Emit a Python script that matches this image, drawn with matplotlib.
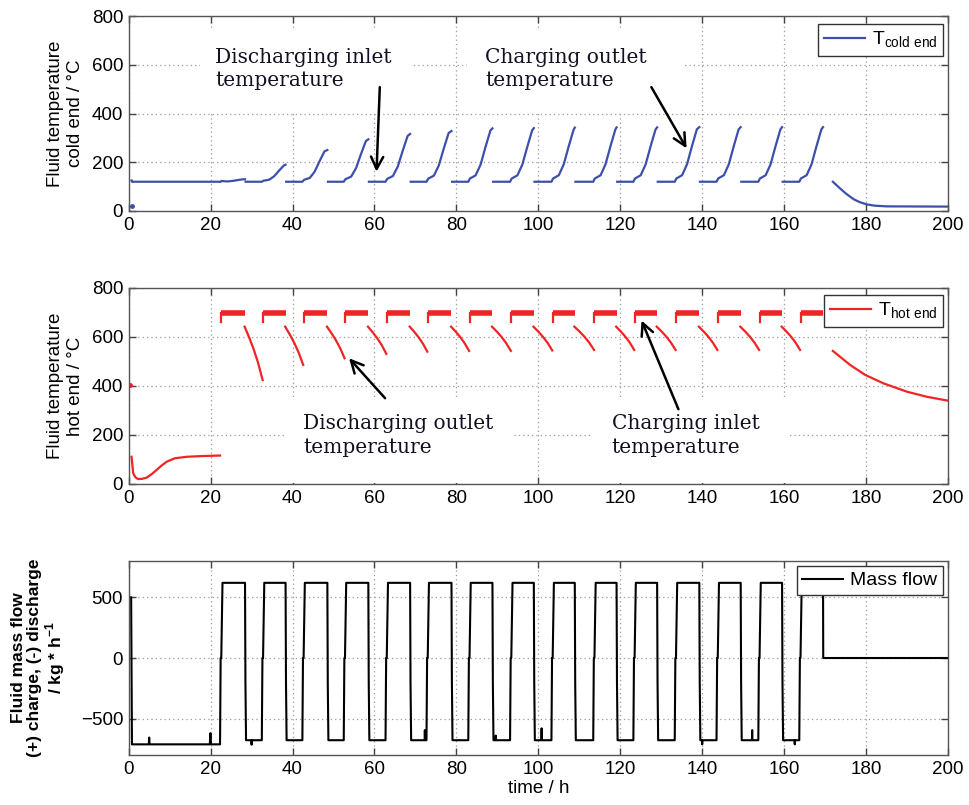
################################################################################
# Imports                                                                      #
################################################################################
import os

os.environ.setdefault("MPLBACKEND", "Agg")

import matplotlib.pyplot as plt
from matplotlib.patches import Rectangle
import numpy as np

################################################################################
# data                                        #
################################################################################
# Start and end of each charging phase (mass flow positive), in hours.
cycleRise = [22.3, 32.5, 42.4, 52.5, 62.7, 72.7, 82.9, 93.1, 103.2, 113.4,
             123.2, 133.3, 143.5, 153.7, 163.7]
cycleFall = [28.4, 38.3, 48.5, 58.5, 68.7, 78.8, 88.8, 98.9, 108.9, 119.1,
             129.0, 139.3, 149.4, 159.5, 169.5]

# Cold end: flat inlet level and the outlet peak reached at each charge end.
coldFlat = 120
coldPeak = [130, 190, 250, 294, 316, 328, 339, 340, 342, 343, 343, 344, 344,
            344, 344]
# Shape of one outlet rise (hours after charge start, fraction of the rise).
coldRiseDt = [0.0, 0.4, 1.8, 3.0, 4.2, 5.4]
coldRiseFrac = [0.0, 0.06, 0.12, 0.32, 0.65, 0.96]
coldInitT = [0.7, 0.8, 22.4]
coldInitV = [125, 120, 120]
coldDotT = [0.7]
coldDotV = [20]
coldPostT = [171.9, 173.5, 175.2, 177.0, 178.5, 180.2, 182.0, 185.0, 200.0]
coldPostV = [120, 95, 70, 48, 36, 27, 22, 19, 18]

# Hot end: charging inlet level, discharging outlet start and end values.
hotCharge = 698
hotDipV = 662
hotDisStart = 642
hotDisEnd = [424, 486, 513, 531, 540, 543, 543, 545, 547, 547, 547, 547, 547,
             547]
# Shape of one outlet fall (fraction of the phase, fraction of the drop).
hotDisTimeFrac = [0.0, 0.25, 0.5, 0.75, 1.0]
hotDisValFrac = [0.0, 0.2, 0.42, 0.68, 1.0]
hotInitT = [0.7, 1.1, 1.6, 2.3, 3.3, 4.4, 5.6, 6.8, 8.0, 9.3, 11.3, 14.2,
            18.0, 22.3]
hotInitV = [111, 44, 28, 20, 21, 26, 40, 57, 75, 91, 105, 111, 114, 116]
hotDotT = [0.4]
hotDotV = [405]
hotPostT = [171.9, 176.1, 179.8, 184.2, 189.9, 194.8, 200.0]
hotPostV = [543, 486, 445, 411, 377, 356, 340]

# Mass flow levels in kg/h.
flowCharge = 620
flowDischarge = -678
flowInitT = [0.6, 0.8, 4.9, 5.0, 5.1, 19.8, 19.95, 20.1, 22.3]
flowInitV = [500, -712, -712, -656, -712, -712, -620, -712, -712]
flowSpikeT = [30.0, 72.3, 89.6, 100.8, 140.0, 152.2, 162.6]
flowSpikeV = [-715, -595, -640, -580, -712, -595, -712]

################################################################################
# variables/constants                                                          #
################################################################################
blue = "#3C50AA"
red = "#F02424"
gridStyle = dict(color="#9a9a9a", linestyle=(0, (1, 2.5)), linewidth=0.9)
sansFont = ["Liberation Sans", "DejaVu Sans"]
serifFont = ["DejaVu Serif"]

plt.rcParams["font.family"] = sansFont
plt.rcParams["mathtext.fontset"] = "custom"
plt.rcParams["mathtext.rm"] = "Liberation Sans"
plt.rcParams["mathtext.bf"] = "Liberation Sans:bold"

################################################################################
# helpers                                                                      #
################################################################################


# One cold end segment: flat inlet during discharge, then outlet rise.
def coldSegment(k):
    rise = cycleRise[k]
    fall = cycleFall[k]
    start = 22.7 if k == 0 else cycleFall[k - 1] + 0.15
    peak = coldPeak[k]
    times = [start]
    vals = [coldFlat + (3 if k == 0 else 0)]
    for dt, frac in zip(coldRiseDt, coldRiseFrac):
        if rise + dt > start:
            times.append(rise + dt)
            vals.append(coldFlat + frac * (peak - coldFlat))
    times.append(fall)
    vals.append(peak)
    return times, vals


# One hot end discharge segment between charge end and next charge start.
def hotDischarge(k):
    t0 = cycleFall[k] - 0.1
    t1 = cycleRise[k + 1] + 0.2
    times = [t0 + f * (t1 - t0) for f in hotDisTimeFrac]
    vals = [hotDisStart + f * (hotDisEnd[k] - hotDisStart) for f in hotDisValFrac]
    return times, vals


# Whole mass flow trace built from the phase times and levels.
def flowTrace():
    times = list(flowInitT)
    vals = list(flowInitV)
    for k in range(len(cycleRise)):
        rise = cycleRise[k]
        fall = cycleFall[k]
        times += [rise + 0.15, rise + 0.3, rise + 0.6, fall]
        vals += [0, 0, flowCharge, flowCharge]
        if k == len(cycleRise) - 1:
            times += [fall + 0.05, 200.0]
            vals += [0, 0]
            break
        nextRise = cycleRise[k + 1]
        times += [fall + 0.1, fall + 0.25]
        vals += [-200, flowDischarge]
        for st, sv in zip(flowSpikeT, flowSpikeV):
            if fall + 0.3 < st < nextRise - 0.1:
                times += [st - 0.05, st, st + 0.05]
                vals += [flowDischarge, sv, flowDischarge]
        times.append(nextRise)
        vals.append(flowDischarge)
    return times, vals


# MATLAB like axes styling.
def styleAxes(ax, yTicks, yLim):
    ax.set_xlim(0, 200)
    ax.set_ylim(*yLim)
    ax.set_xticks(np.arange(0, 201, 20))
    ax.set_yticks(yTicks)
    ax.set_axisbelow(True)
    ax.grid(True, **gridStyle)
    ax.tick_params(direction="in", top=True, right=True, length=5,
                   width=1, color="#444444", labelsize=13.5, pad=4)
    for spine in ax.spines.values():
        spine.set_color("#555555")
        spine.set_linewidth(1.0)


def whiteBox(ax, x0, x1, y0, y1):
    ax.add_patch(Rectangle((x0, y0), x1 - x0, y1 - y0, facecolor="white",
                           edgecolor="none", zorder=1))


def note(ax, text, xy, xyText, textPos):
    ax.text(textPos[0], textPos[1], text, fontsize=14.5, family=serifFont,
            color="#111122", ha="left", va="top", linespacing=1.3, zorder=4)
    ax.annotate("", xy=xy, xytext=xyText,
                arrowprops=dict(arrowstyle="->", color="black", lw=1.8,
                                mutation_scale=22, shrinkA=0, shrinkB=0),
                zorder=5)


def addLegend(ax, anchor):
    leg = ax.legend(loc="upper right", bbox_to_anchor=anchor, borderaxespad=0,
                    fancybox=False, framealpha=1, edgecolor="#333333",
                    fontsize=14, handlelength=2.1, handletextpad=0.35,
                    borderpad=0.3)
    leg.get_frame().set_linewidth(1.0)

################################################################################
# plots                                                                        #
################################################################################


def main():
    fig = plt.figure(figsize=(9.69, 8.05), dpi=100)
    left, width = 0.1328, 0.8455
    axTop = fig.add_axes([left, 0.7379, width, 0.2422])
    axMid = fig.add_axes([left, 0.3988, width, 0.2435])
    axBot = fig.add_axes([left, 0.0621, width, 0.2410])

    # Cold end temperature.
    styleAxes(axTop, np.arange(0, 801, 200), (0, 800))
    whiteBox(axTop, 17.4, 69.4, 411, 747)
    whiteBox(axTop, 82.5, 135.0, 411, 747)
    axTop.plot(coldInitT, coldInitV, color=blue, lw=1.6, zorder=2,
               label=r"T$_{\mathrm{cold\ end}}$")
    axTop.plot(coldDotT, coldDotV, "o", color=blue, ms=2.5, zorder=2)
    for k in range(len(cycleRise)):
        t, v = coldSegment(k)
        axTop.plot(t, v, color=blue, lw=1.6, zorder=2)
    axTop.plot(coldPostT, coldPostV, color=blue, lw=1.6, zorder=2)
    axTop.set_ylabel("Fluid temperature\ncold end / °C", fontsize=13.5)
    axTop.yaxis.set_label_coords(-0.055, 0.5)
    addLegend(axTop, (0.994, 0.959))
    note(axTop, "Discharging inlet\ntemperature", (60.5, 161), (61.3, 508),
         (21.1, 670))
    note(axTop, "Charging outlet\ntemperature", (136.2, 257), (127.6, 508),
         (87.0, 670))

    # Hot end temperature.
    styleAxes(axMid, np.arange(0, 801, 200), (0, 800))
    whiteBox(axMid, 38.6, 93.8, 2, 356)
    whiteBox(axMid, 113.0, 161.0, 2, 356)
    axMid.plot(hotInitT, hotInitV, color=red, lw=1.6, zorder=2,
               label=r"T$_{\mathrm{hot\ end}}$")
    axMid.plot(hotDotT, hotDotV, "o", color=red, ms=2.5, zorder=2)
    for k in range(len(cycleRise)):
        rise = cycleRise[k]
        fall = cycleFall[k]
        axMid.plot([rise + 0.3, rise + 0.3], [hotDipV, hotCharge], color=red,
                   lw=1.6, zorder=2)
        axMid.plot([rise + 0.3, fall], [hotCharge, hotCharge], color=red,
                   lw=4.0, solid_capstyle="butt", zorder=2)
        if k < len(cycleRise) - 1:
            t, v = hotDischarge(k)
            axMid.plot(t, v, color=red, lw=1.6, zorder=2)
    axMid.plot(hotPostT, hotPostV, color=red, lw=1.6, zorder=2)
    axMid.set_ylabel("Fluid temperature\nhot end / °C", fontsize=13.5)
    axMid.yaxis.set_label_coords(-0.055, 0.5)
    addLegend(axMid, (0.994, 0.964))
    note(axMid, "Discharging outlet\ntemperature", (53.8, 513), (62.6, 350),
         (42.6, 284))
    note(axMid, "Charging inlet\ntemperature", (125.2, 667), (134.2, 305),
         (117.9, 284))

    # Mass flow.
    styleAxes(axBot, [-500, 0, 500], (-800, 800))
    t, v = flowTrace()
    axBot.plot(t, v, color="black", lw=1.5, zorder=2, label="Mass flow")
    axBot.set_ylabel("Fluid mass flow\n(+) charge, (-) discharge\n"
                     r"/ kg * h$^{\mathbf{-1}}$", fontsize=12.5,
                     fontweight="bold", linespacing=1.1)
    axBot.yaxis.set_label_coords(-0.075, 0.5)
    axBot.set_xlabel("time / h", fontsize=13.5, labelpad=2)
    addLegend(axBot, (0.994, 0.974))

    fig.savefig("out.png", dpi=100)
    plt.close(fig)


if __name__ == "__main__":
    main()
